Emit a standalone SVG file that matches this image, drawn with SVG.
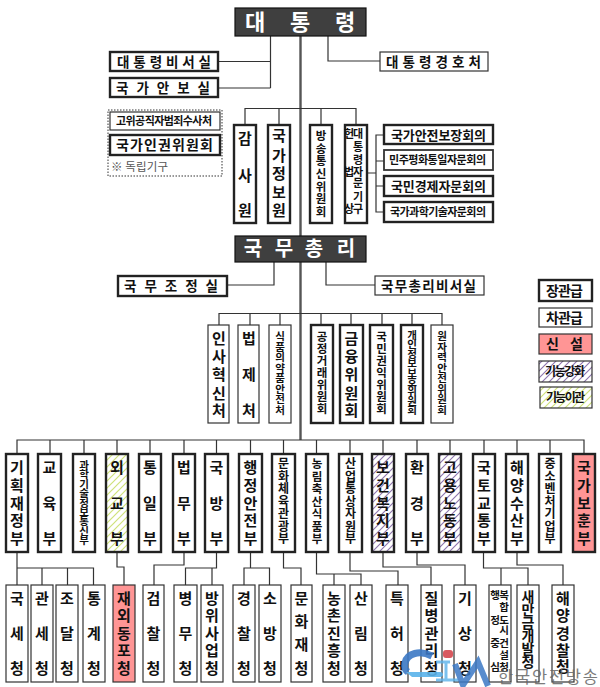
<svg xmlns="http://www.w3.org/2000/svg" width="600" height="687" viewBox="0 0 600 687">
<style>
text{font-family:"Noto Sans CJK KR","Noto Sans",sans-serif;font-weight:700;fill:#111;text-anchor:middle}
.h{text-anchor:start}
.k{fill:#fff;stroke:#222;stroke-width:2.4}
.n{fill:#fff;stroke:#333;stroke-width:1.2}
.red{fill:#ff9595;stroke:#333;stroke-width:2}
.hd{fill:#3f3f3f;stroke:#111;stroke-width:1.2}
.wt{fill:#fff;font-size:21px}
.f15{font-size:15px}.f14{font-size:14px}.f13{font-size:13.5px}.f12{font-size:12px}.f11{font-size:11.5px}.f10{font-size:10.5px}
#conn path{fill:none;stroke:#333;stroke-width:1.2}
#conn path.stem{stroke:#555;stroke-width:2.4}
</style>
<defs>
<pattern id="pur" width="7" height="7" patternUnits="userSpaceOnUse"><rect width="7" height="7" fill="#fff"/><path d="M-1,1L1,-1M0,7L7,0M6,8L8,6" stroke="#8d74ad" stroke-width="1.1"/></pattern>
<pattern id="grn" width="7" height="7" patternUnits="userSpaceOnUse"><rect width="7" height="7" fill="#fff"/><path d="M-1,1L1,-1M0,7L7,0M6,8L8,6" stroke="#cfe27a" stroke-width="1.2"/></pattern>
</defs>
<g id="conn">
<path class="stem" d="M300.5,36V238M300.5,262V440"/>
<path d="M270.5,36V88M218,61.5H270.5M218,88H270.5M328,36V61H380"/>
<path d="M245,125V108.5H356V125M279,108.5V125M321,108.5V125"/>
<path d="M367,173H376M384,135H376V212H384M376,161H384M376,186H384"/>
<path d="M274,262V285H227M326,262V285H375"/>
<path d="M219,325V313.5H442V325M250,313.5V325M280,313.5V325M321,313.5V325M351,313.5V325M382,313.5V325M412,313.5V325"/>
<path d="M17,454V440H584V454M50,440V454M84,440V454M117,440V454M150,440V454M184,440V454M216.5,440V454M250.5,440V454M283.5,440V454M316.5,440V454M350,440V454M383,440V454M417,440V454M450,440V454M484,440V454M517,440V454M550,440V454"/>
<path d="M17,552V585M17,568H93.5V585M42,568V585M67.5,568V585"/>
<path d="M117,552V567H124V585M184,552V565H154V585M216.5,552V568H185.5V585M212,568V585"/>
<path d="M250.5,552V568M244,585V568H269.5V585M283.5,552V568H301V585"/>
<path d="M316.5,552V574H361V585M334,574V585M350,552V571H398V585M383,552V567H431V585M417,552V565H465V585"/>
<path d="M483.5,552V568H528V585M501,568V585M517,552V565H563V585"/>
</g>

<g id="president"><rect class="hd" x="235" y="8" width="131" height="28"/><text class="wt" style="font-size:22px" x="255 300 345" y="30 30 30">대통령</text></g>
<g id="n-bs"><rect class="k" x="110" y="52" width="108" height="19"/><text class="h f13" x="117" y="66.5" textLength="94">대통령비서실</text></g>
<g id="n-an"><rect class="k" x="110" y="78" width="108" height="19"/><text class="h f13" x="116" y="93" textLength="94">국가안보실</text></g>
<g id="n-gh"><rect class="n" x="380" y="52" width="108" height="19"/><text class="h f13" x="386" y="67" textLength="95">대통령경호처</text></g>
<g id="indep"><rect x="108" y="110" width="114" height="66" fill="#fff" stroke="#333" stroke-width="1" stroke-dasharray="1.5 1.5"/>
<rect class="n" x="110" y="112" width="110" height="18"/><text class="h f11" style="font-size:11px" x="116" y="125" textLength="96">고위공직자범죄수사처</text>
<rect class="k" x="110" y="135" width="110" height="20"/><text class="h f14" x="116" y="150" textLength="97">국가인권위원회</text>
<text class="h" x="111" y="171" style="font-size:11.5px;font-weight:400;fill:#555" textLength="57">※ 독립기구</text></g>

<g id="n-gam"><rect class="k" x="234" y="125" width="22" height="98"/><text class="f15" x="245 245 245" y="143.5 180.5 215.5">감사원</text></g>
<g id="n-gj"><rect class="k" x="268" y="125" width="22" height="98"/><text class="f15" x="279 279 279 279 279" y="140.5 160.5 178.5 197.5 215.5">국가정보원</text></g>
<g id="n-bt"><rect class="k" x="310" y="125" width="22" height="98"/><text class="f11" x="321 321 321 321 321 321 321" y="140 152.7 165.3 178 190.7 203.3 216">방송통신위원회</text></g>
<g id="n-ja"><rect class="k" x="345" y="125" width="22" height="98"/><text class="f11" style="font-size:11px" x="349 349 349 358 358 358 358 358 358 358" y="138 176 213 138 151 164 176 187 201 213">헌법상대통령자문기구</text></g>
<g id="n-c1"><rect class="k" x="384" y="125" width="109" height="19"/><text class="h f13" style="font-size:13px" x="391" y="139.5" textLength="95">국가안전보장회의</text></g>
<g id="n-c2"><rect class="n" style="stroke-width:1.8" x="384" y="150" width="109" height="20"/><text class="h f11" style="font-size:11px" x="389" y="164" textLength="97">민주평화통일자문회의</text></g>
<g id="n-c3"><rect class="k" x="384" y="176" width="109" height="20"/><text class="h f13" style="font-size:13px" x="391" y="191" textLength="95">국민경제자문회의</text></g>
<g id="n-c4"><rect class="k" x="384" y="202" width="109" height="20"/><text class="h f11" style="font-size:11px" x="390" y="216" textLength="96">국가과학기술자문회의</text></g>

<g id="pm"><rect class="hd" x="235" y="236" width="131" height="26"/><text class="wt" style="font-size:20px" x="253 284 314 346" y="256 256 256 256">국무총리</text></g>
<g id="n-jj"><rect class="k" x="118" y="276" width="109" height="20"/><text class="h f13" x="124" y="290.5" textLength="94">국무조정실</text></g>
<g id="n-cb"><rect class="n" x="375" y="276" width="109" height="19"/><text class="h f13" x="381" y="290.5" textLength="95">국무총리비서실</text></g>

<g id="n-is"><rect class="n" x="208" y="325" width="21" height="98"/><text class="f15" x="219 219 219 219 219" y="344 362 380 398.5 416">인사혁신처</text></g>
<g id="n-bj"><rect class="n" x="238" y="325" width="21" height="98"/><text class="f15" x="249 249 249" y="344 380 416">법제처</text></g>
<g id="n-sp"><rect class="n" x="269" y="325" width="22" height="98"/><text class="f10" x="280 280 280 280 280 280 280 280" y="340 350.5 361 371.5 382 392.5 403 413.5">식품의약품안전처</text></g>
<g id="n-gg"><rect class="k" x="311" y="325" width="22" height="98"/><text class="f11" x="322 322 322 322 322 322 322" y="341 353 365 377 389 401 413">공정거래위원회</text></g>
<g id="n-gy"><rect class="k" x="340" y="325" width="23" height="98"/><text class="f15" x="351.5 351.5 351.5 351.5 351.5" y="344 362 380 398.5 416">금융위원회</text></g>
<g id="n-gm"><rect class="k" x="370" y="325" width="23" height="98"/><text class="f11" x="381.5 381.5 381.5 381.5 381.5 381.5 381.5" y="341 353 365 377 389 401 413">국민권익위원회</text></g>
<g id="n-gi"><rect class="k" x="401" y="325" width="22" height="98"/><text class="f10" x="412 412 412 412 412 412 412 412 412" y="339 348.4 357.8 367.2 376.6 386 395.4 404.8 414.2">개인정보보호위원회</text></g>
<g id="n-wj"><rect class="n" x="431" y="325" width="22" height="98"/><text class="f10" x="442 442 442 442 442 442 442 442" y="340 350.5 361 371.5 382 392.5 403 413.5">원자력안전위원회</text></g>

<g id="lg1"><rect class="k" x="539" y="280" width="53" height="21"/><text class="h f14" x="546" y="296" textLength="37">장관급</text></g>
<g id="lg2"><rect class="n" x="539" y="308" width="53" height="19"/><text class="h f14" x="546" y="322.5" textLength="37">차관급</text></g>
<g id="lg3"><rect class="n" style="fill:#ff9595" x="539" y="334" width="53" height="20"/><text class="h f14" x="546" y="349" textLength="37">신 설</text></g>
<g id="lg4"><rect class="n" style="fill:url(#pur)" x="539" y="361" width="53" height="21"/><text class="h f12" x="545" y="376" textLength="40">기능강화</text></g>
<g id="lg5"><rect class="n" style="fill:url(#grn)" x="540" y="387" width="52" height="21"/><text class="h f12" x="546" y="402" textLength="39">기능이관</text></g>

<g id="m1"><rect class="k" x="6" y="454" width="22" height="98"/><text class="f15" x="17 17 17 17 17" y="473 491 508.5 526 544">기획재정부</text></g>
<g id="m2"><rect class="k" x="38" y="454" width="23" height="98"/><text class="f15" x="49.5 49.5 49.5" y="473 508.5 544">교육부</text></g>
<g id="m3"><rect class="k" x="73" y="454" width="22" height="98"/><text class="f10" x="84 84 84 84 84 84 84 84 84" y="469 478.4 487.8 497.2 506.6 516 525.4 534.8 544.2">과학기술정보통신부</text></g>
<g id="m4"><rect class="k" style="fill:url(#grn)" x="106" y="454" width="22" height="98"/><text class="f15" x="117 117 117" y="473 508.5 544">외교부</text></g>
<g id="m5"><rect class="k" x="139" y="454" width="22" height="98"/><text class="f15" x="150 150 150" y="473 508.5 544">통일부</text></g>
<g id="m6"><rect class="k" x="173" y="454" width="22" height="98"/><text class="f15" x="184 184 184" y="473 508.5 544">법무부</text></g>
<g id="m7"><rect class="k" x="205" y="454" width="23" height="98"/><text class="f15" x="216.5 216.5 216.5" y="473 508.5 544">국방부</text></g>
<g id="m8"><rect class="k" x="239" y="454" width="23" height="98"/><text class="f15" x="250.5 250.5 250.5 250.5 250.5" y="473 491 508.5 526 544">행정안전부</text></g>
<g id="m9"><rect class="k" x="272" y="454" width="23" height="98"/><text class="f12" x="283.5 283.5 283.5 283.5 283.5 283.5 283.5" y="468 481 493 506 518 531 543">문화체육관광부</text></g>
<g id="m10"><rect class="k" x="306" y="454" width="22" height="98"/><text class="f11" x="317 317 317 317 317 317 317" y="468 481 493 506 518 531 543">농림축산식품부</text></g>
<g id="m11"><rect class="k" x="339" y="454" width="23" height="98"/><text class="f12" x="350.5 350.5 350.5 350.5 350.5 350.5 350.5" y="468 481 493 506 518 531 543">산업통상자원부</text></g>
<g id="m12"><rect class="k" style="fill:url(#pur)" x="372" y="454" width="22" height="98"/><text class="f15" x="383 383 383 383 383" y="473 491 508.5 526 544">보건복지부</text></g>
<g id="m13"><rect class="k" x="406" y="454" width="22" height="98"/><text class="f15" x="417 417 417" y="473 508.5 544">환경부</text></g>
<g id="m14"><rect class="k" style="fill:url(#pur)" x="439" y="454" width="22" height="98"/><text class="f15" x="450 450 450 450 450" y="473 491 508.5 526 544">고용노동부</text></g>
<g id="m15"><rect class="k" x="473" y="454" width="22" height="98"/><text class="f15" x="484 484 484 484 484" y="473 491 508.5 526 544">국토교통부</text></g>
<g id="m16"><rect class="k" x="506" y="454" width="22" height="98"/><text class="f15" x="517 517 517 517 517" y="473 491 508.5 526 544">해양수산부</text></g>
<g id="m17"><rect class="k" x="539" y="454" width="22" height="98"/><text class="f12" x="550 550 550 550 550 550 550" y="468 481 493 506 518 531 543">중소벤처기업부</text></g>
<g id="m18"><rect class="red" style="stroke:#222;stroke-width:2.4" x="573" y="454" width="22" height="98"/><text class="f15" x="584 584 584 584 584" y="473 491 508.5 526 544">국가보훈부</text></g>

<g id="a1"><rect class="n" x="6" y="585" width="22" height="97"/><text class="f15" x="17 17 17" y="604 639 674">국세청</text></g>
<g id="a2"><rect class="n" x="31" y="585" width="22" height="97"/><text class="f15" x="42 42 42" y="604 639 674">관세청</text></g>
<g id="a3"><rect class="n" x="56" y="585" width="22" height="97"/><text class="f15" x="67 67 67" y="604 639 674">조달청</text></g>
<g id="a4"><rect class="n" x="83" y="585" width="22" height="97"/><text class="f15" x="94 94 94" y="604 639 674">통계청</text></g>
<g id="a5"><rect class="n" style="fill:#ff9595" x="113" y="585" width="22" height="97"/><text class="f15" x="124 124 124 124 124" y="604 621 639 656 674">재외동포청</text></g>
<g id="a6"><rect class="n" x="143" y="585" width="21" height="97"/><text class="f15" x="153.5 153.5 153.5" y="604 639 674">검찰청</text></g>
<g id="a7"><rect class="n" x="174" y="585" width="23" height="97"/><text class="f15" x="185.5 185.5 185.5" y="604 639 674">병무청</text></g>
<g id="a8"><rect class="n" x="201" y="585" width="22" height="97"/><text class="f15" x="212 212 212 212 212" y="604 621 639 656 674">방위사업청</text></g>
<g id="a9"><rect class="n" x="233" y="585" width="22" height="97"/><text class="f15" x="244 244 244" y="604 639 674">경찰청</text></g>
<g id="a10"><rect class="n" x="259" y="585" width="22" height="97"/><text class="f15" x="270 270 270" y="604 639 674">소방청</text></g>
<g id="a11"><rect class="n" x="291" y="585" width="21" height="97"/><text class="f15" x="301.5 301.5 301.5 301.5" y="604 627 650 674">문화재청</text></g>
<g id="a12"><rect class="n" x="323" y="585" width="22" height="97"/><text class="f15" x="334 334 334 334 334" y="604 621 639 656 674">농촌진흥청</text></g>
<g id="a13"><rect class="n" x="350" y="585" width="22" height="97"/><text class="f15" x="361 361 361" y="604 639 674">산림청</text></g>
<g id="a14"><rect class="n" x="386" y="585" width="22" height="97"/><text class="f15" x="397 397 397" y="604 639 674">특허청</text></g>
<g id="a15"><rect class="n" x="421" y="585" width="21" height="97"/><text class="f15" x="431.5 431.5 431.5 431.5 431.5" y="604 621 639 656 674">질병관리청</text></g>
<g id="a16"><rect class="n" x="454" y="585" width="22" height="97"/><text class="f15" x="465 465 465" y="604 639 674">기상청</text></g>
<g id="a17"><rect class="n" x="489" y="585" width="22" height="97"/><text class="f10" x="495 495 495 495 504 504 504 504 504 504 504" y="599 624 647 671 599 611 624 634 647 659 671">행정중심복합도시건설청</text></g>
<g id="a18"><rect class="n" x="517" y="585" width="22" height="97"/><text class="f14" x="528 528 528 528 528 528" y="602 615 628 641 654 667">새만금개발청</text></g>
<g id="a19"><rect class="n" x="552" y="585" width="22" height="97"/><text class="f15" x="563 563 563 563 563" y="604 621 639 656 672">해양경찰청</text></g>

<g id="watermark">
<path d="M432,656C420,650 407,653 405,663C404,668 405,670 408,672" fill="none" stroke="#3b78c4" stroke-width="7" opacity=".9"/>
<path d="M406,672H440C444,672 444,677 440,677H412Z" fill="#5ab2ea" opacity=".9"/>
<path d="M436,662H450M446,662V680M436,680H458" fill="none" stroke="#5ab2ea" stroke-width="3" opacity=".8"/>
<rect x="443" y="650" width="10" height="8" rx="3" fill="#d9595f"/>
<path d="M455,664L463,685L478,662L488,686" fill="none" stroke="#3b78c4" stroke-width="6" opacity=".85"/>
<text class="h" x="498" y="683" style="font-size:16.5px;font-weight:400;fill:#666" textLength="100" opacity=".85">한국안전방송</text>
</g>
</svg>
